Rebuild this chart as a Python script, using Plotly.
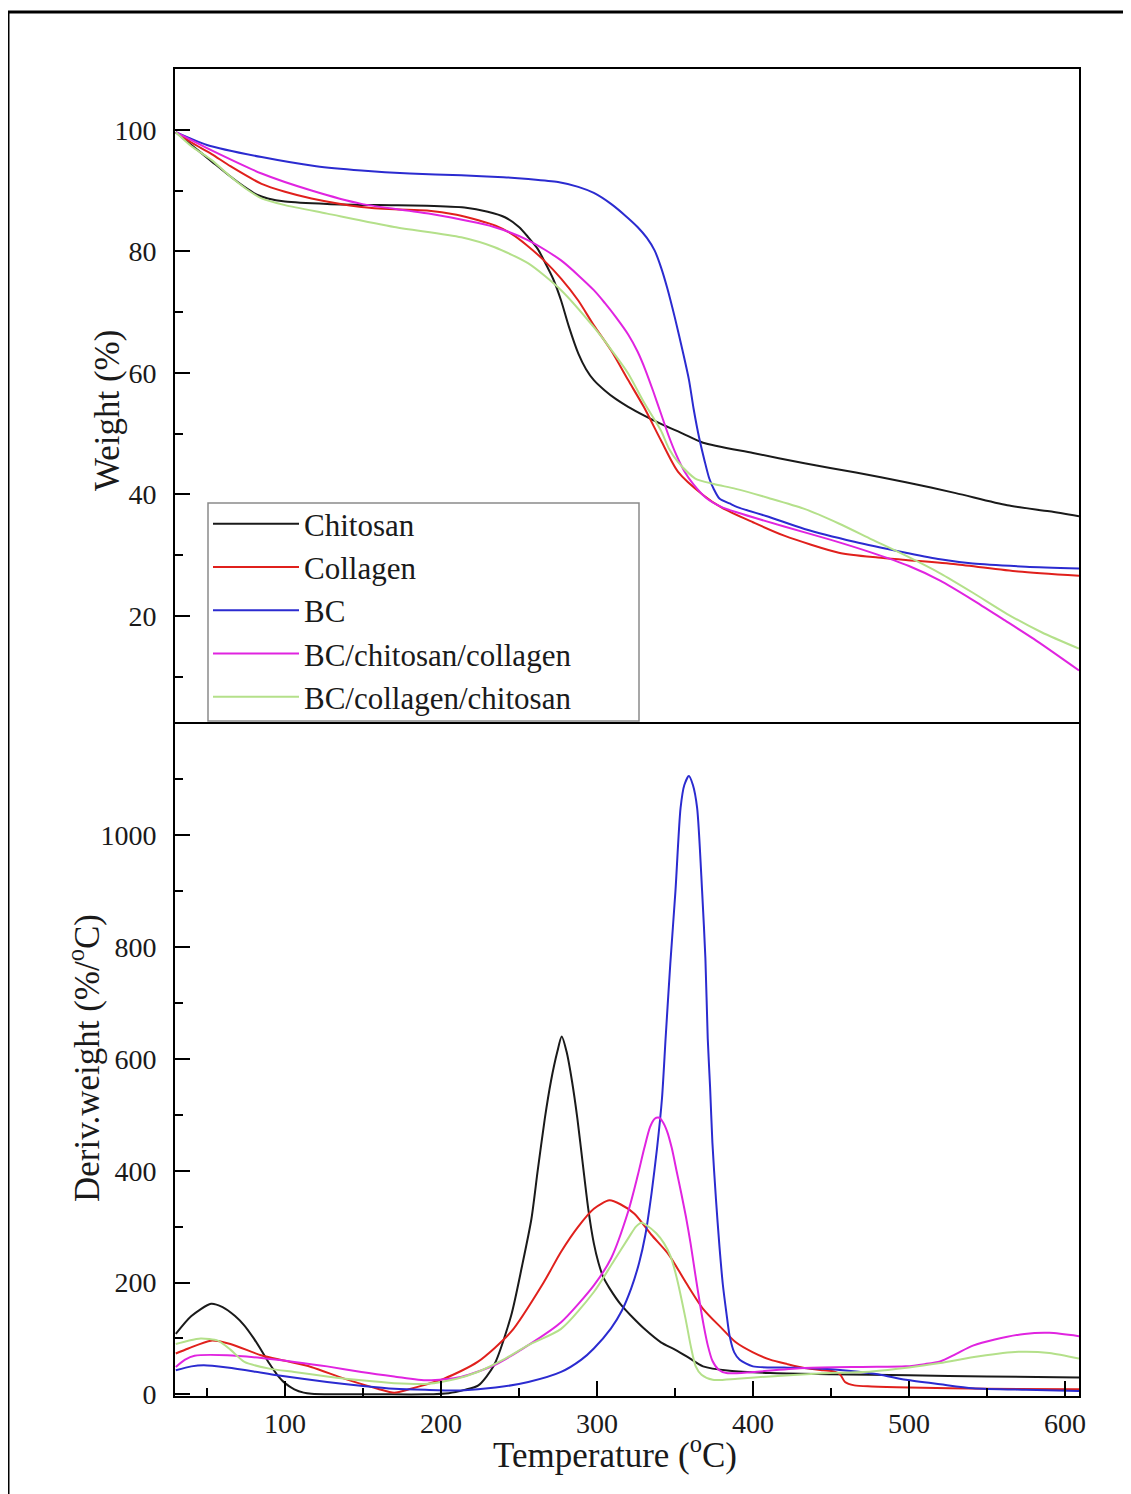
import plotly.graph_objects as go

# ---------------- data ----------------
names = ["Chitosan", "Collagen", "BC", "BC/chitosan/collagen", "BC/collagen/chitosan"]
colors = ["#1a1a1a", "#e0201c", "#2b2bd0", "#e024e0", "#b4e08a"]

# TGA (weight %) vs temperature (°C)
tga_T_chitosan = [30, 40, 52, 64, 74, 82, 89, 100, 127, 160, 191, 215, 230, 241, 250, 256, 262, 266, 272, 277,
                  282, 288, 293, 298, 305, 312, 320, 330, 341, 355, 368, 400, 433, 466, 498, 530, 563, 590, 609]
tga_W_chitosan = [99.6, 97.5, 95.0, 92.5, 90.6, 89.3, 88.7, 88.2, 87.8, 87.6, 87.5, 87.2, 86.5, 85.6, 84.0, 82.3,
                  80.4, 78.5, 75.4, 71.9, 67.6, 63.2, 60.6, 58.8, 57.1, 55.7, 54.4, 53.0, 51.6, 50.0, 48.5, 46.8,
                  45.1, 43.6, 42.0, 40.2, 38.2, 37.2, 36.4]

tga_T_collagen = [30, 40, 53, 65, 85, 100, 117, 149, 170, 191, 210, 224, 235, 245, 255, 266, 277, 288, 298, 309,
                  320, 330, 341, 352, 368, 380, 400, 420, 455, 480, 498, 530, 570, 609]
tga_W_collagen = [99.6, 97.9, 96.0, 94.0, 91.1, 89.8, 88.7, 87.3, 86.9, 86.7, 86.0, 85.1, 84.2, 82.9, 81.0, 78.5,
                  75.5, 71.9, 67.8, 63.7, 58.8, 54.4, 48.9, 43.7, 39.9, 37.8, 35.4, 33.2, 30.4, 29.6, 29.2, 28.5,
                  27.3, 26.6]

tga_T_bc = [30, 50, 85, 120, 149, 180, 213, 240, 256, 275, 288, 298, 309, 318, 326, 332, 337, 341, 345, 350, 355,
            359, 362, 365.5, 369, 372, 375, 378.5, 385, 390, 410, 433, 465, 498, 520, 541, 575, 609]
tga_W_bc = [99.6, 97.5, 95.5, 94.0, 93.3, 92.8, 92.5, 92.2, 91.9, 91.4, 90.6, 89.6, 87.8, 85.9, 84.0, 82.2, 80.1,
            77.4, 74.0, 69.0, 63.5, 58.8, 54.0, 49.3, 45.5, 42.6, 40.8, 39.3, 38.5, 37.9, 36.3, 34.3, 32.2, 30.4,
            29.3, 28.6, 28.1, 27.8]

tga_T_bcchco = [30, 53, 85, 117, 149, 192, 234, 256, 277, 298, 305, 312, 320, 326, 331, 336, 341, 346, 351, 356,
                362, 370, 380, 390, 420, 450, 476, 500, 520, 541, 560, 580, 609]
tga_W_bcchco = [99.6, 96.6, 92.8, 90.0, 87.8, 86.2, 84.0, 81.8, 78.5, 73.6, 71.5, 69.2, 66.3, 63.5, 60.5, 57.0,
                53.3, 49.6, 46.4, 43.8, 41.6, 39.4, 37.9, 37.0, 34.7, 32.5, 30.4, 28.2, 25.8, 22.6, 19.5, 16.2, 11.0]

tga_T_bccoch = [30, 40, 53, 65, 75, 85, 100, 127, 170, 213, 234, 256, 277, 298, 310, 320, 330, 341, 346, 352, 363,
                375, 389, 410, 433, 455, 476, 498, 520, 541, 563, 585, 609]
tga_W_bccoch = [99.6, 97.3, 95.0, 92.3, 90.3, 88.7, 87.6, 86.2, 84.0, 82.3, 80.7, 78.0, 73.6, 67.5, 63.5, 59.9,
                55.2, 50.5, 47.6, 45.3, 42.6, 41.7, 40.9, 39.4, 37.6, 35.2, 32.6, 29.9, 27.0, 23.8, 20.3, 17.3, 14.6]

# DTG (%/°C) vs temperature (°C)
dtg_T_chitosan = [30, 40, 52.6, 60, 68, 74, 80, 85, 90, 95, 100, 106, 112, 117, 130, 160, 190, 205, 215, 224, 234,
                  245, 252, 258, 262, 266.6, 270.5, 274.6, 277.4, 280.5, 284, 287.4, 291, 294.5, 298, 301, 304, 308,
                  316, 322, 330, 341, 350, 358, 368, 385, 411, 450, 500, 550, 609]
dtg_D_chitosan = [108, 140, 162, 156, 140, 123, 100, 78, 55, 35, 20, 9, 3, 1, 0, 0, 0, 2, 8, 16, 52,
                  141, 230, 314, 400, 494, 560, 613, 640, 613, 560, 494, 410, 330, 270, 235, 210, 190,
                  158, 140, 118, 93, 80, 67, 50, 42, 38, 36, 34, 32, 30]

dtg_T_collagen = [30, 38, 52.6, 65, 84.6, 100, 116.7, 138, 159.4, 170, 180.8, 202, 223.5, 245, 266, 277, 288, 298,
                  308, 315, 324, 335, 346, 357, 368, 380, 389, 400, 411, 422, 433, 445, 452, 456, 459, 465, 476, 500,
                  550, 609]
dtg_D_collagen = [73, 82, 96, 90, 70, 60, 49, 28, 10, 3, 10, 28, 58, 112, 201, 255, 300, 332, 347, 340, 323, 285,
                  250, 200, 153, 118, 93, 75, 62, 54, 47, 43, 41, 35, 22, 16, 14, 12, 10, 9]

dtg_T_bc = [30, 40, 48, 63, 80, 95, 127, 150, 170, 190, 213, 235, 256, 277, 290, 298, 309, 316, 322, 327, 331, 335,
            338.5, 341.7, 344, 347, 350.3, 353.6, 356, 358.9, 361.5, 364.2, 367.4, 369.5, 371, 372.5, 374, 376.3,
            378.5, 380.7, 383, 385, 388, 391.5, 400, 420, 454, 480, 498, 520, 541, 575, 609]
dtg_D_bc = [43, 50, 52, 48, 41, 34, 22, 15, 10, 8, 7, 12, 22, 40, 62, 82, 118, 150, 190, 235, 285, 360, 440, 530,
            637, 770, 900, 1049, 1090, 1106, 1090, 1049, 900, 780, 637, 550, 450, 348, 265, 196, 145, 105, 75, 62,
            50, 48, 44, 36, 26, 18, 11, 8, 6]

dtg_T_bcchco = [30, 36, 42, 63, 85, 106, 127, 149, 170, 191.5, 212.8, 234, 256, 277, 298, 309, 320, 326, 330.3, 334,
                337, 339.5, 342, 345, 348, 351, 354, 357, 360, 363, 366, 368.5, 371, 374, 378, 383, 400, 433, 470,
                498, 510, 520, 530, 541, 555, 574, 590, 609]
dtg_D_bcchco = [49, 62, 69, 70, 65, 58, 50, 40, 32, 25, 31, 52, 88, 129, 195, 243, 327, 390, 440, 478, 493, 495, 488,
                470, 440, 400, 360, 318, 270, 215, 162, 122, 88, 60, 44, 38, 40, 47, 49, 50, 54, 59, 72, 87, 98, 108,
                110, 104]

dtg_T_bccoch = [30, 38, 46, 57, 65, 74, 90, 106, 127, 149, 170, 191.5, 210, 223.5, 240, 256, 277, 298, 310, 320,
                325, 328.5, 332, 338, 343, 347, 351, 356.8, 360, 363.3, 367, 374.2, 390, 411, 440, 476, 500, 520,
                545, 570, 590, 609]
dtg_D_bccoch = [90, 96, 100, 96, 80, 58, 46, 40, 32, 25, 20, 19, 28, 40, 62, 88, 117, 183, 235, 279, 300, 307, 302,
                288, 270, 248, 210, 135, 88, 50, 35, 26, 28, 32, 37, 41, 48, 56, 68, 76, 74, 64]

tga_series = [(tga_T_chitosan, tga_W_chitosan), (tga_T_collagen, tga_W_collagen), (tga_T_bc, tga_W_bc),
              (tga_T_bcchco, tga_W_bcchco), (tga_T_bccoch, tga_W_bccoch)]
dtg_series = [(dtg_T_chitosan, dtg_D_chitosan), (dtg_T_collagen, dtg_D_collagen), (dtg_T_bc, dtg_D_bc),
              (dtg_T_bcchco, dtg_D_bcchco), (dtg_T_bccoch, dtg_D_bccoch)]

# ---------------- figure ----------------
FONT = "Liberation Serif"
TXT = "#1a1a1a"
fig = go.Figure()

for name, color, (t, w) in zip(names, colors, tga_series):
    fig.add_trace(go.Scatter(x=t, y=w, mode="lines", name=name, xaxis="x2", yaxis="y2",
                             line=dict(color=color, width=2, shape="spline", smoothing=0.7)))
for name, color, (t, d) in zip(names, colors, dtg_series):
    fig.add_trace(go.Scatter(x=t, y=d, mode="lines", name=name, showlegend=False, xaxis="x", yaxis="y",
                             line=dict(color=color, width=2, shape="spline", smoothing=0.7)))

# page pixel -> paper coordinates (plot area spans x 175..1079, y 69..1396 on the page)
def px(X):
    return (X - 175) / 904.0

def py(Y):
    return (1396 - Y) / 1327.0

split = py(724)
common = dict(showline=True, linewidth=2, linecolor="black", mirror=True, showgrid=False, zeroline=False,
              ticks="inside", ticklen=15, tickwidth=2, tickcolor="black",
              tickfont=dict(family=FONT, size=28, color=TXT))
minor_common = dict(ticks="inside", ticklen=8, tickwidth=2, tickcolor="black", showgrid=False)

fig.update_layout(
    width=1123, height=1486,
    margin=dict(l=167, r=52, t=61, b=98),
    paper_bgcolor="white", plot_bgcolor="white",
    font=dict(family=FONT, size=28, color=TXT),
    xaxis=dict(domain=[0, 1], anchor="y", range=[29.5, 609], tick0=0, dtick=100,
               minor=dict(dtick=50, **minor_common), ticklabelstandoff=1, **common),
    yaxis=dict(domain=[0, split], anchor="x", range=[-3, 1199], tick0=0, dtick=200,
               minor=dict(dtick=100, **minor_common), ticklabelstandoff=11, **common),
    xaxis2=dict(domain=[0, 1], anchor="y2", matches="x", range=[29.5, 609], showticklabels=False,
                side="top", showline=True, linewidth=2, linecolor="black", mirror=False,
                showgrid=False, zeroline=False, ticks=""),
    yaxis2=dict(domain=[split, 1], anchor="x2", range=[2.2, 110], tick0=0, dtick=20,
                minor=dict(dtick=10, **minor_common), ticklabelstandoff=11, **common),
    legend=dict(x=px(208), y=py(497), xanchor="left", yanchor="top",
                bgcolor="rgba(0,0,0,0)", borderwidth=0,
                font=dict(family=FONT, size=31, color=TXT),
                itemwidth=86, tracegroupgap=0),
    annotations=[
        dict(text="Temperature (<sup>o</sup>C)", xref="paper", yref="paper", x=px(614.5), y=py(1452),
             xanchor="center", yanchor="middle", showarrow=False, font=dict(family=FONT, size=35, color=TXT)),
        dict(text="Weight (%)", xref="paper", yref="paper", x=px(107), y=py(411), textangle=-90,
             xanchor="center", yanchor="middle", showarrow=False, font=dict(family=FONT, size=35, color=TXT)),
        dict(text="Deriv.weight (%/<sup>o</sup>C)", xref="paper", yref="paper", x=px(84), y=py(1058),
             textangle=-90, xanchor="center", yanchor="middle", showarrow=False,
             font=dict(family=FONT, size=35, color=TXT)),
    ],
    shapes=[
        # outer frame (only top/left edges fall inside the page)
        dict(type="rect", xref="paper", yref="paper", x0=px(8), x1=px(1150), y0=py(1510), y1=py(12),
             line=dict(color="black", width=3), fillcolor="rgba(0,0,0,0)", layer="below"),
        # legend box
        dict(type="rect", xref="paper", yref="paper", x0=px(208), x1=px(639), y0=py(721), y1=py(503),
             line=dict(color="#8a8a8a", width=1.5), fillcolor="white", layer="above"),
    ],
)

fig.write_html("out.html")
